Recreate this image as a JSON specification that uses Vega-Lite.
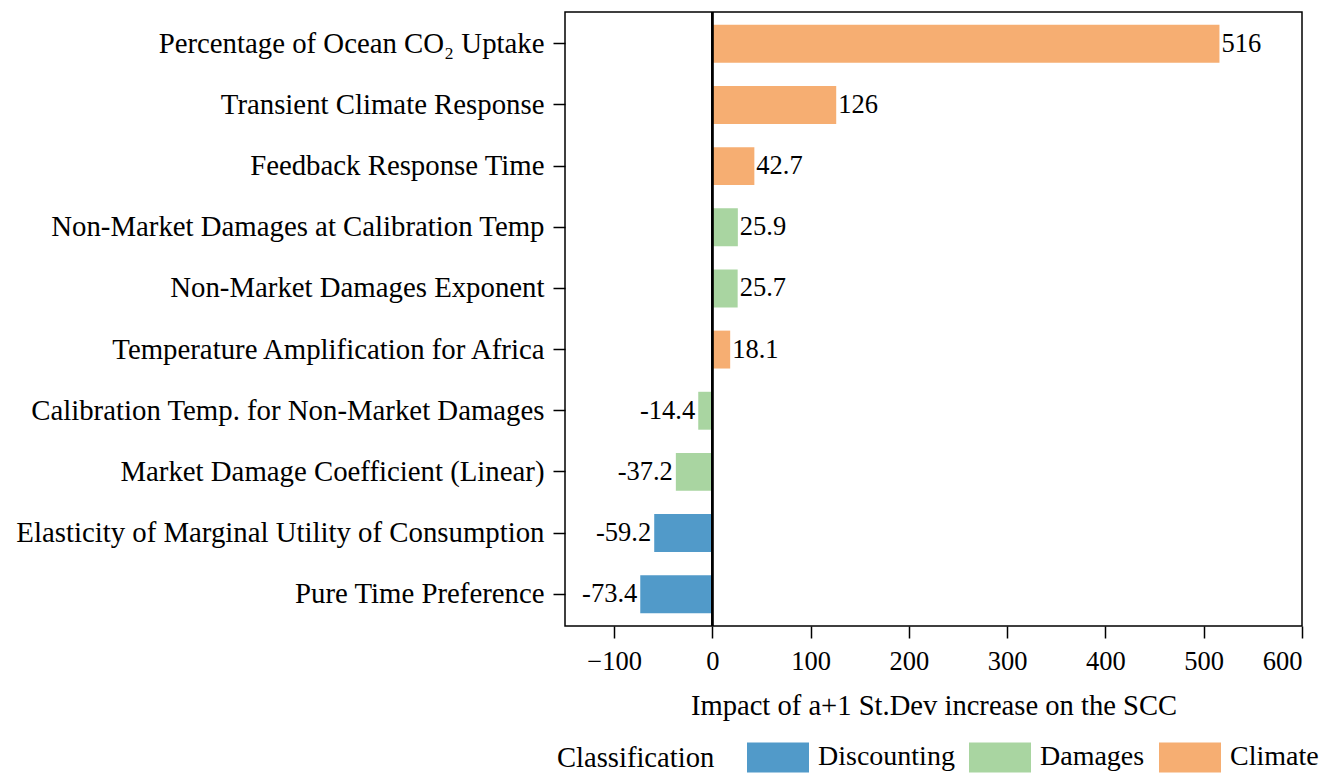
{
  "$schema": "https://vega.github.io/schema/vega-lite/v6.json",
  "autosize": {"type": "none"},
  "padding": {"left": 565, "top": 12, "right": 33, "bottom": 157},
  "width": 737,
  "height": 614,
  "data": {
    "values": [
      {"param": "Percentage of Ocean CO₂ Uptake", "value": 516, "cls": "Climate"},
      {"param": "Transient Climate Response", "value": 126, "cls": "Climate"},
      {"param": "Feedback Response Time", "value": 42.7, "cls": "Climate"},
      {"param": "Non-Market Damages at Calibration Temp", "value": 25.9, "cls": "Damages"},
      {"param": "Non-Market Damages Exponent", "value": 25.7, "cls": "Damages"},
      {"param": "Temperature Amplification for Africa", "value": 18.1, "cls": "Climate"},
      {"param": "Calibration Temp. for Non-Market Damages", "value": -14.4, "cls": "Damages"},
      {"param": "Market Damage Coefficient (Linear)", "value": -37.2, "cls": "Damages"},
      {"param": "Elasticity of Marginal Utility of Consumption", "value": -59.2, "cls": "Discounting"},
      {"param": "Pure Time Preference", "value": -73.4, "cls": "Discounting"}
    ]
  },
  "encoding": {
    "y": {
      "field": "param", "type": "nominal", "sort": null,
      "scale": {"paddingInner": 0.38, "paddingOuter": 0.21},
      "axis": {"title": null, "tickSize": 12, "labelPadding": 9, "labelLimit": 0, "domain": false, "labelFontSize": 28.8}
    },
    "x": {
      "field": "value", "type": "quantitative",
      "scale": {"domain": [-150, 600], "nice": false, "zero": false},
      "axis": {"values": [-100, 0, 100, 200, 300, 400, 500, 600], "tickSize": 12, "labelPadding": 10, "domain": false,
               "labelFontSize": 26.5,
               "title": "Impact of a+1 St.Dev increase on the SCC", "titlePadding": 17, "titleFontSize": 28.6}
    }
  },
  "layer": [
    {
      "mark": {"type": "bar"},
      "encoding": {
        "color": {
          "field": "cls", "type": "nominal",
          "scale": {"domain": ["Discounting", "Damages", "Climate"], "range": ["#519ac9", "#a9d5a1", "#f6ae72"]},
          "legend": {
            "title": "Classification", "orient": "none", "direction": "horizontal",
            "legendX": -8, "legendY": 714, "titleOrient": "left", "titlePadding": 32,
            "titleAnchor": "middle", "titleBaseline": "line-top", "titleLineHeight": 19,
            "symbolType": "M-1,-0.484L1,-0.484L1,0.484L-1,0.484Z", "symbolSize": 3844,
            "symbolStrokeWidth": 0, "symbolOpacity": 1, "columnPadding": 14, "labelOffset": 9,
            "labelFontSize": 28, "titleFontSize": 28.6, "titleFontWeight": "normal", "labelColor": "black", "titleColor": "black",
            "labelLimit": 0
          }
        }
      }
    },
    {
      "mark": {"type": "rule", "color": "black", "strokeWidth": 1.5},
      "encoding": {"x": {"datum": 0}, "y": null}
    },
    {
      "transform": [{"filter": "datum.value >= 0"}],
      "mark": {"type": "text", "align": "left", "baseline": "middle", "dx": 2, "fontSize": 26.5, "color": "black"},
      "encoding": {"text": {"field": "value", "type": "nominal"}}
    },
    {
      "transform": [{"filter": "datum.value < 0"}],
      "mark": {"type": "text", "align": "right", "baseline": "middle", "dx": -3, "fontSize": 26.5, "color": "black"},
      "encoding": {"text": {"field": "value", "type": "nominal"}}
    }
  ],
  "config": {
    "font": "Liberation Serif",
    "view": {"stroke": "black", "strokeWidth": 1.5},
    "axis": {
      "grid": false, "titleFontWeight": "normal",
      "labelColor": "black", "titleColor": "black", "tickColor": "black", "tickWidth": 1.5
    }
  }
}
